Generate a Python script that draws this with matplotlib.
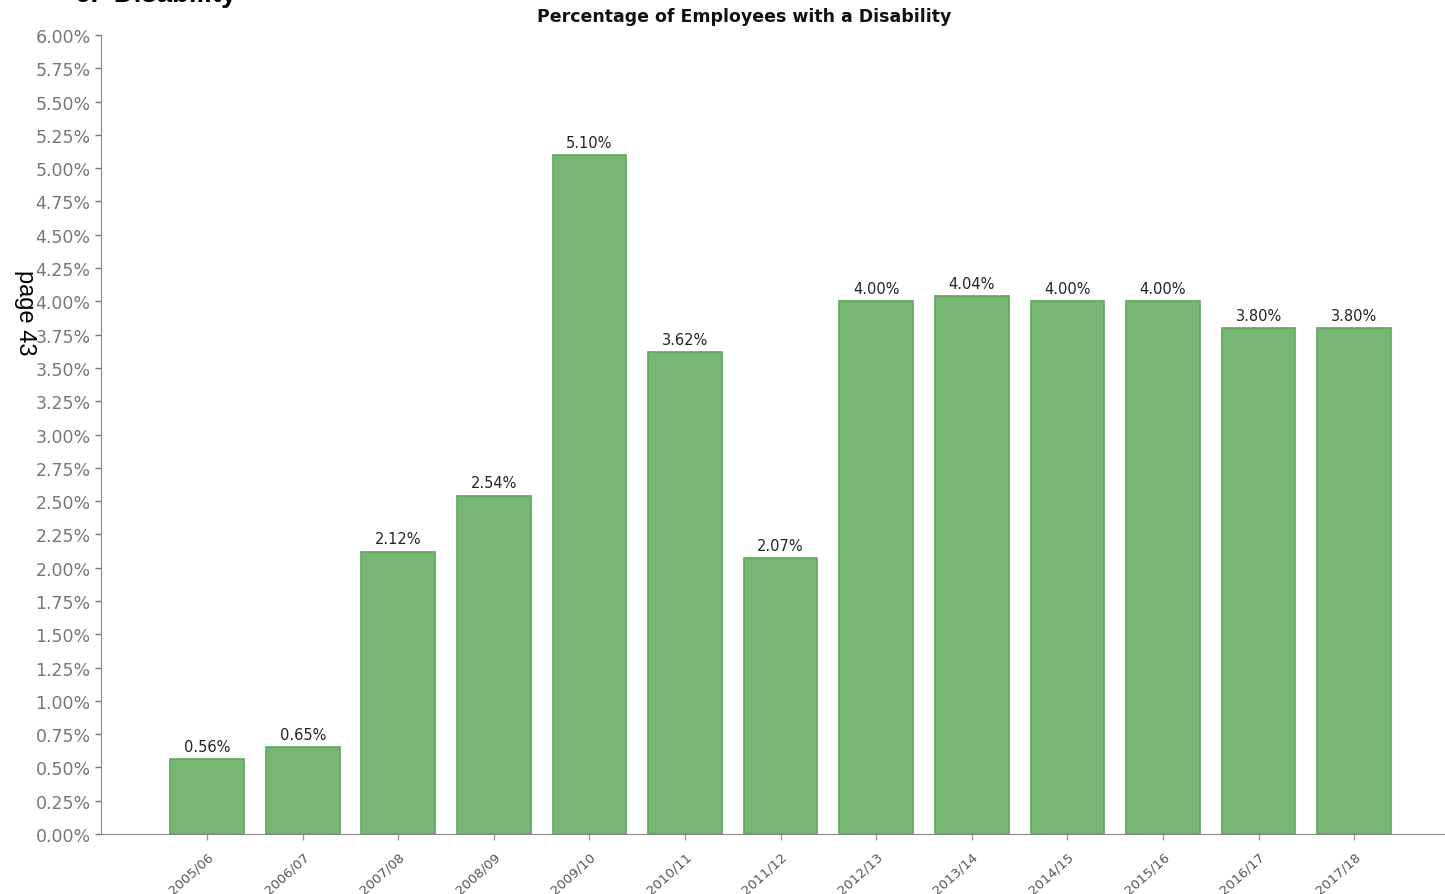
import matplotlib.pyplot as plt
from matplotlib.ticker import FuncFormatter, MultipleLocator

years = ['2005/06', '2006/07', '2007/08', '2008/09', '2009/10', '2010/11', '2011/12',
         '2012/13', '2013/14', '2014/15', '2015/16', '2016/17', '2017/18']
pct = [0.56, 0.65, 2.12, 2.54, 5.10, 3.62, 2.07, 4.00, 4.04, 4.00, 4.00, 3.80, 3.80]

fig = plt.figure(figsize=(14.45, 8.95), dpi=100)
ax = fig.add_axes([0.0699, 0.067, 0.9301, 0.8928])

x = range(len(years))
bars = ax.bar(x, pct, width=0.77, color='#77b674', edgecolor='#5ea85a', linewidth=1.2)

for b, v in zip(bars, pct):
    ax.text(b.get_x() + b.get_width() / 2, v + 0.04, f'{v:.2f}%', ha='center', va='bottom',
            fontsize=10.5, color='#222222')

ax.set_xlim(-1.11, 12.95)
ax.set_ylim(0, 6)
ax.yaxis.set_major_locator(MultipleLocator(0.25))
ax.yaxis.set_major_formatter(FuncFormatter(lambda v, p: f'{v:.2f}%'))
ax.set_xticks(list(x))
ax.set_xticklabels(years, rotation=42, ha='right', rotation_mode='anchor', fontsize=9.5)
ax.tick_params(axis='y', labelsize=12.5, colors='#777777', length=4, width=1)
ax.tick_params(axis='x', colors='#999999', length=4, width=1, pad=7)
for lab in ax.get_xticklabels():
    lab.set_color('#555555')

for s in ['top', 'right']:
    ax.spines[s].set_visible(False)
ax.spines['left'].set_color('#888888')
ax.spines['bottom'].set_color('#888888')

fig.text(0.515, 0.9805, 'Percentage of Employees with a Disability', ha='center', va='center',
         fontsize=12.5, fontweight='bold', color='#111111')
fig.text(0.052, 1.006, '6.  Disability', ha='left', va='center', fontsize=20,
         fontweight='bold', family='Liberation Sans', color='black')
fig.text(0.017, 0.65, 'page 43', rotation=270, ha='center', va='center', fontsize=17,
         family='Liberation Sans', color='black')

fig.savefig('out.png', dpi=100)
